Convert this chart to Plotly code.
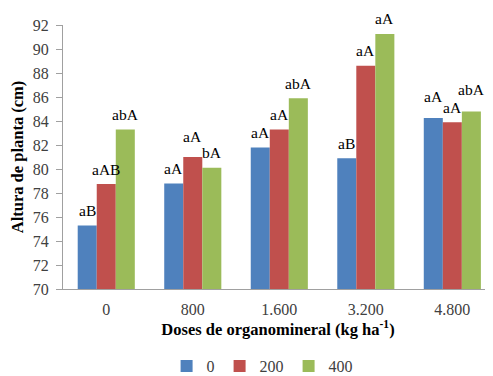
import plotly.graph_objects as go

categories = ["0", "800", "1.600", "3.200", "4.800"]
series_names = ["0", "200", "400"]
values_0 = [75.3, 78.8, 81.8, 80.9, 84.25]
values_200 = [78.75, 81.0, 83.3, 88.6, 83.9]
values_400 = [83.3, 80.1, 85.9, 91.25, 84.8]
labels_0 = ["aB", "aA", "aA", "aB", "aA"]
labels_200 = ["aAB", "aA", "aA", "aA", "aA"]
labels_400 = ["abA", "bA", "abA", "aA", "abA"]
y_ticks = list(range(70, 93, 2))

colors = ["#4F81BD", "#C0504D", "#9BBB59"]
all_values = [values_0, values_200, values_400]
all_labels = [labels_0, labels_200, labels_400]
# extra vertical pixel offsets for labels (style)
extra_shift = [
    [0, 0, 0, 0, 7],
    [0, 6, 0, 0, 0],
    [0, 0, 0, 1, 7],
]

serif = "Liberation Serif"
fig = go.Figure()
for name, vals, col in zip(series_names, all_values, colors):
    fig.add_trace(go.Bar(x=categories, y=vals, name=name, marker_color=col,
                         marker_line_width=0))

bar_px = 19.0
for i, (vals, labs) in enumerate(zip(all_values, all_labels)):
    for j, (v, lab) in enumerate(zip(vals, labs)):
        fig.add_annotation(x=j, y=v, text=lab, showarrow=False,
                           xref="x", yref="y", yanchor="middle",
                           xshift=(i - 1) * bar_px, yshift=15 + extra_shift[i][j],
                           font=dict(family=serif, size=15.5, color="black"))

# page body has an 8px default margin, so the figure starts at (8, 8)
fig.update_layout(
    width=485, height=368,
    margin=dict(l=55, r=0, t=17, b=87, autoexpand=False),
    paper_bgcolor="white", plot_bgcolor="white",
    barmode="group", bargap=0.34, bargroupgap=0,
    font=dict(family=serif, size=16, color="#404040"),
    showlegend=True,
    legend=dict(orientation="h", x=0.463, xref="paper", xanchor="center",
                y=-0.292, yanchor="middle",
                font=dict(family=serif, size=16, color="#404040"),
                itemwidth=30, traceorder="normal"),
    xaxis=dict(range=[-0.5, 4.47], showline=True, linecolor="#A0A0A0",
               linewidth=1, ticks="", showgrid=False, automargin=False,
               ticklabelstandoff=6,
               tickfont=dict(family=serif, size=16, color="#404040"),
               title=dict(text="<b>Doses de organomineral (kg ha<sup>-1</sup>)</b>",
                          font=dict(family=serif, size=16.5, color="black"),
                          standoff=2)),
    yaxis=dict(range=[70, 92], tickvals=y_ticks, showline=True,
               linecolor="#A0A0A0", linewidth=1, ticks="outside",
               ticklen=6, tickcolor="#A0A0A0", showgrid=False, zeroline=False,
               automargin=False, ticklabelstandoff=4,
               tickfont=dict(family=serif, size=16, color="#404040"),
               title=dict(text="<b>Altura de planta (cm)</b>",
                          font=dict(family=serif, size=16.5, color="black"))),
)

fig.write_html("out.html")
